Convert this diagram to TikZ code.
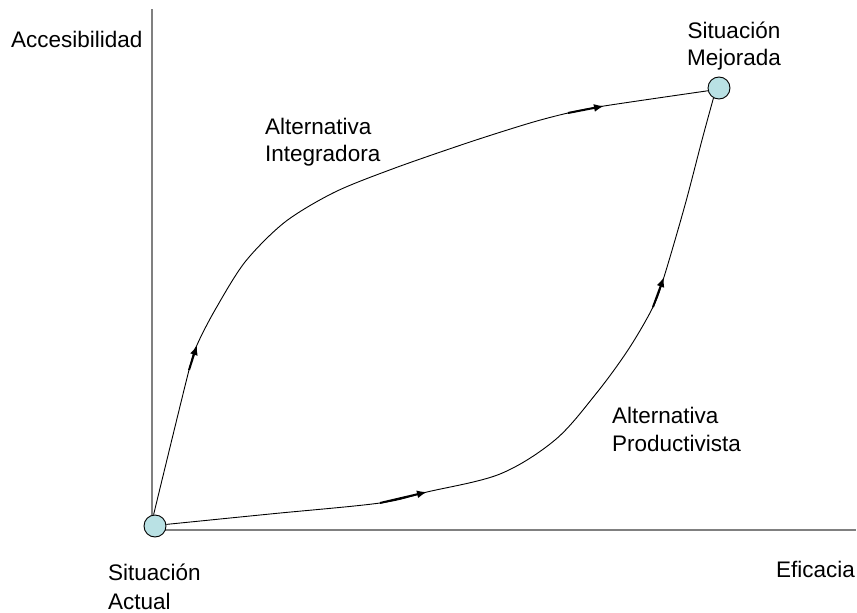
\documentclass[tikz,border=0pt]{standalone}
\usepackage{fontspec}
\setmainfont{Liberation Sans}
\usetikzlibrary{arrows.meta}
\definecolor{circfill}{RGB}{185,225,228}
\definecolor{axisgray}{RGB}{128,128,128}
\begin{document}
\begin{tikzpicture}[x=1pt,y=-1pt,
  axisline/.style={draw=axisgray,line width=1.8pt},
  curveline/.style={draw=black,line width=0.9pt},
  dirarrow/.style={draw=black,line width=2pt,-{Latex[length=10pt,width=8pt]}},
  statecirc/.style={circle,draw=black,fill=circfill,line width=0.9pt,minimum size=22pt,inner sep=0pt},
  lbl/.style={inner sep=0pt,font=\fontsize{22.5}{27}\selectfont}]
\useasboundingbox (0,0) rectangle (857,613);
% axes
\coordinate (ytop) at (152,9);
\coordinate (orig) at (152,530);
\coordinate (xend) at (856,530);
\draw[axisline] (ytop) -- (orig) -- (xend);
% states
\node[statecirc] (A) at (155,526) {};
\node[statecirc] (B) at (719,88) {};
% upper path points
\coordinate (u1t) at (189,370);
\coordinate (u1h) at (197,345);
\coordinate (u2) at (215,310);
\coordinate (u3) at (245,262);
\coordinate (u4) at (285,222);
\coordinate (u5) at (335,192);
\coordinate (u6) at (395,168);
\coordinate (u7) at (470,142);
\coordinate (u8) at (530,123);
\coordinate (u9t) at (568,113);
\coordinate (u9h) at (604,106);
\draw[curveline] plot[smooth,tension=0.5] coordinates {(A.97) (u1t) (u1h) (u2) (u3) (u4) (u5) (u6) (u7) (u8) (u9t) (u9h) (B.194)};
\draw[dirarrow] (u1t) -- (u1h);
\draw[dirarrow] (u9t) -- (u9h);
% lower path points
\coordinate (l1) at (270,514);
\coordinate (l2t) at (380,503);
\coordinate (l2h) at (427,492);
\coordinate (l3) at (500,474);
\coordinate (l4) at (555,440);
\coordinate (l5) at (595,395);
\coordinate (l6) at (628,350);
\coordinate (l7t) at (653,307);
\coordinate (l7h) at (664,277);
\coordinate (l8) at (685,205);
\coordinate (l9) at (702,140);
\draw[curveline] plot[smooth,tension=0.55] coordinates {(A.8) (l1) (l2t) (l2h) (l3) (l4) (l5) (l6) (l7t) (l7h) (l8) (l9) (B.241)};
\draw[dirarrow] (l2t) -- (l2h);
\draw[dirarrow] (l7t) -- (l7h);
% labels
\node[lbl,anchor=base west] (acc) at (11,47) {Accesibilidad};
\node[lbl,anchor=base east] (efi) at (855,577) {Eficacia};
\node[lbl,anchor=base] (sm1) at (734,38) {Situación};
\node[lbl,anchor=base] (sm2) at (734,65) {Mejorada};
\node[lbl,anchor=base west] (sa1) at (108,580) {Situación};
\node[lbl,anchor=base west] (sa2) at (108,609) {Actual};
\node[lbl,anchor=base west] (ai1) at (265,134) {Alternativa};
\node[lbl,anchor=base west] (ai2) at (265,161) {Integradora};
\node[lbl,anchor=base west] (ap1) at (612,423) {Alternativa};
\node[lbl,anchor=base west] (ap2) at (612,451) {Productivista};
\end{tikzpicture}
\end{document}
